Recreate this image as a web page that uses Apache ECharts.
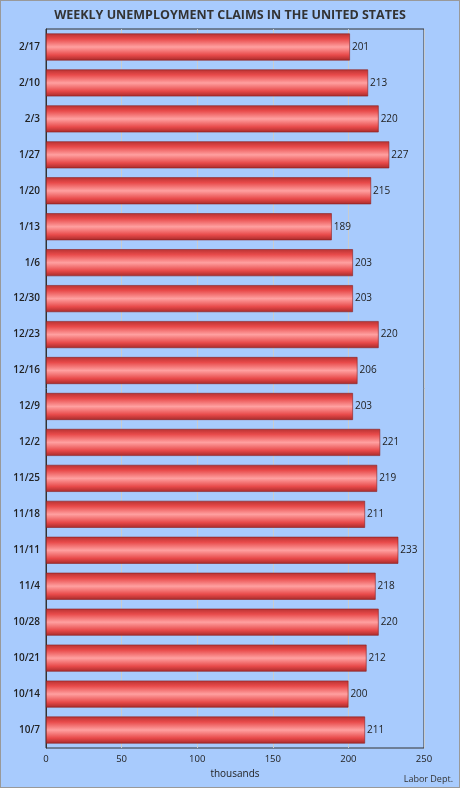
<!DOCTYPE html>
<html><head><meta charset="utf-8">
<script src="https://cdn.jsdelivr.net/npm/echarts@6/dist/echarts.min.js"></script>
<style>html,body{margin:0;padding:0;background:#a8cbfd;}#c{width:460px;height:788px;box-sizing:border-box;border:1px solid #999;}</style>
</head><body><div id="c"></div>
<script>
const categories = ["2/17","2/10","2/3","1/27","1/20","1/13","1/6","12/30","12/23","12/16","12/9","12/2","11/25","11/18","11/11","11/4","10/28","10/21","10/14","10/7"];
const claims = [201,213,220,227,215,189,203,203,220,206,203,221,219,211,233,218,220,212,200,211];
const xTicks = [0,50,100,150,200,250];
const chart = echarts.init(document.getElementById('c'));
const font = '"Open Sans", "Noto Sans", sans-serif';
chart.setOption({
  backgroundColor: '#a8cbfd',
  animation: false,
  title: { text: 'WEEKLY UNEMPLOYMENT CLAIMS IN THE UNITED STATES', left: 'center', top: 3,
    textStyle: { fontFamily: font, fontSize: 12.5, fontWeight: 'bold', color: '#333' } },
  graphic: [{ type: 'text', right: 6, bottom: 3, style: { text: 'Labor Dept.', font: '9px ' + font, fill: '#333' } }],
  grid: { left: 45, right: 35, top: 28, bottom: 39, show: true, borderColor: '#333', borderWidth: 1 },
  xAxis: { type: 'value', min: xTicks[0], max: xTicks[xTicks.length-1], interval: 50,
    name: 'thousands', nameLocation: 'middle', nameGap: 17,
    nameTextStyle: { fontFamily: font, fontSize: 10, color: '#222' },
    axisLine: { show: false }, axisTick: { show: false },
    axisLabel: { fontFamily: font, fontSize: 9.5, color: '#222', margin: 6 },
    splitLine: { show: true, lineStyle: { color: '#c8ccd0', width: 1 } } },
  yAxis: { type: 'category', data: categories, inverse: true,
    axisLine: { show: true, lineStyle: { color: '#333' } }, axisTick: { show: false },
    axisLabel: { fontFamily: font, fontSize: 10, fontWeight: 600, color: '#222', margin: 6 } },
  series: [{ type: 'bar', data: claims, barWidth: '75%',
    itemStyle: { borderColor: '#8a2020', borderWidth: 0.6,
      color: { type: 'linear', x: 0, y: 0, x2: 0, y2: 1, colorStops: [
        { offset: 0, color: '#b83232' }, { offset: 0.2, color: '#e84a4a' },
        { offset: 0.5, color: '#ffa0a0' }, { offset: 0.8, color: '#e84a4a' },
        { offset: 1, color: '#a82a2a' } ] } },
    label: { show: true, position: 'right', distance: 2, fontFamily: font, fontSize: 10, color: '#222' } }]
});
</script></body></html>
